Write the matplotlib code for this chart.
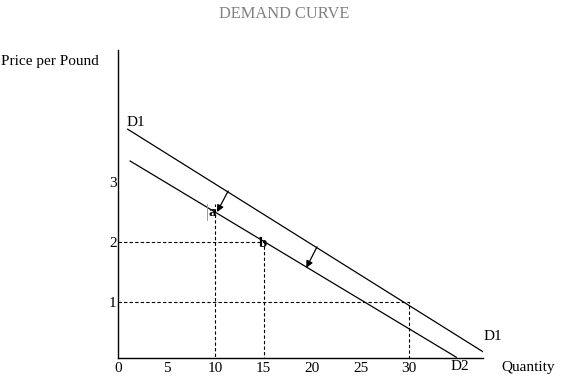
import matplotlib
matplotlib.use('Agg')
import matplotlib.pyplot as plt

plt.rcParams['font.family'] = ['Liberation Serif', 'DejaVu Serif']

# axis ticks
QTY_TICKS = [0, 5, 10, 15, 20, 25, 30]
PRICE_TICKS = [1, 2, 3]

# demand curves (quantity, price) end points
D1_Q = [1.0, 38.0]
D1_P = [3.88, 0.13]
D2_Q = [1.25, 34.85]
D2_P = [3.35, 0.08]

# marked points
A_PT = (10, 2.54)
B_PT = (15, 2.0)
C_PT = (30, 1.0)

# shift arrows (start q, start p, end q, end p)
ARROWS = [(11.35, 2.85, 10.2, 2.5), (20.5, 1.92, 19.4, 1.57)]

fig = plt.figure(figsize=(5.61, 3.80), dpi=100)
ax = fig.add_axes([118/561, 1-358/380, (483-118)/561, (358-50)/380])
ax.set_xlim(0, 37.6)
ax.set_ylim(0.067, 5.2)
for s in ['top', 'right']:
  ax.spines[s].set_visible(False)
ax.spines['left'].set_linewidth(1.0)
ax.spines['bottom'].set_linewidth(1.0)

ax.plot(D1_Q, D1_P, color='black', lw=0.9)
ax.plot(D2_Q, D2_P, color='black', lw=0.9)

dash = dict(color='black', lw=0.8, ls=(0, (3, 2)))
ax.plot([0, B_PT[0], B_PT[0]], [B_PT[1], B_PT[1], 0], **dash)
ax.plot([0, C_PT[0], C_PT[0]], [C_PT[1], C_PT[1], 0], **dash)
ax.plot([A_PT[0], A_PT[0]], [0, A_PT[1] + 0.1], **dash)
ax.plot([A_PT[0] - 0.82, A_PT[0] - 0.82], [2.36, 2.64], color='#999999', lw=0.7)

for q0, p0, q1, p1 in ARROWS:
  ax.annotate('', xy=(q1, p1), xytext=(q0, p0),
              arrowprops=dict(arrowstyle='-|>', color='black', lw=0.9,
                              mutation_scale=10, shrinkA=0, shrinkB=0))

ax.text(A_PT[0] - 0.31, A_PT[1] - 0.05, 'a', fontsize=11, fontweight='bold',
        ha='center', va='center')
ax.text(B_PT[0] - 0.1, B_PT[1] - 0.03, 'b', fontsize=11, fontweight='bold',
        ha='center', va='center')

ax.set_xticks(QTY_TICKS)
ax.set_xticklabels([str(q) for q in QTY_TICKS])
ax.set_yticks(PRICE_TICKS)
ax.set_yticklabels([str(p) for p in PRICE_TICKS])
ax.tick_params(length=0, labelsize=11, pad=1)
ax.tick_params(axis='x', pad=3)

fig.text(136/561, 1-122/380, 'D1', fontsize=11, ha='center', va='center')
fig.text(493/561, 1-336/380, 'D1', fontsize=11, ha='center', va='center')
fig.text(460/561, 1-367/380, 'D2', fontsize=11, ha='center', va='center')
fig.text(528/561, 1-367/380, 'Quantity', fontsize=11, ha='center', va='center')
fig.text(50/561, 1-61/380, 'Price per Pound', fontsize=11, ha='center', va='center')
fig.text(284/561, 1-14/380, 'DEMAND CURVE', fontsize=11.8, color='#808080',
         ha='center', va='center')

fig.savefig('out.png', dpi=100)
